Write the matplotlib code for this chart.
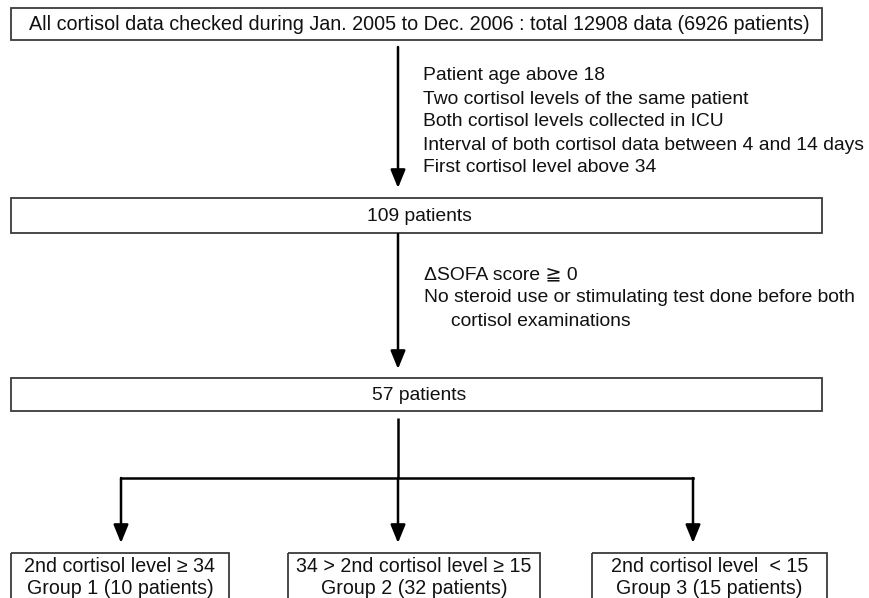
import matplotlib
matplotlib.use("Agg")
import matplotlib.pyplot as plt
from matplotlib.patches import Rectangle

# ---- data (text content) ----
box_labels = [
    "All cortisol data checked during Jan. 2005 to Dec. 2006 : total 12908 data (6926 patients)",
    "109 patients",
    "57 patients",
]
criteria_1 = [
    "Patient age above 18",
    "Two cortisol levels of the same patient",
    "Both cortisol levels collected in ICU",
    "Interval of both cortisol data between 4 and 14 days",
    "First cortisol level above 34",
]
criteria_2 = [
    "\u0394SOFA score \u2267 0",
    "No steroid use or stimulating test done before both",
    "     cortisol examinations",
]
group_conditions = [
    "2nd cortisol level \u2265 34",
    "34 > 2nd cortisol level \u2265 15",
    "2nd cortisol level  < 15",
]
group_names = ["Group 1", "Group 2", "Group 3"]
group_counts = [10, 32, 15]

fam_main = ["Liberation Sans", "DejaVu Sans"]

W, H = 870, 598
fig = plt.figure(figsize=(W / 100, H / 100), dpi=100)
ax = fig.add_axes([0, 0, 1, 1])
ax.set_xlim(0, W)
ax.set_ylim(H, 0)
ax.axis("off")

edge = "#3a3a3a"
txt = "#111111"

def fsz(px):
    return px * 0.72

def box(x0, y0, x1, y1):
    ax.add_patch(Rectangle((x0, y0), x1 - x0, y1 - y0, fill=False,
                           edgecolor=edge, linewidth=1.3))

def arrow(x, y0, y1):
    ax.annotate("", xy=(x, y1), xytext=(x, y0),
                arrowprops=dict(arrowstyle="-|>,head_width=0.45,head_length=1.1",
                                color="black", lw=1.8, shrinkA=0, shrinkB=0))

# main boxes
main_boxes = [(11, 8, 822, 40), (11, 198, 822, 233), (11, 378, 822, 411)]
main_fs = [19.8, 19.3, 19.3]
for (x0, y0, x1, y1), lab, f in zip(main_boxes, box_labels, main_fs):
    box(x0, y0, x1, y1)
    ax.text((x0 + x1) / 2 + 3, (y0 + y1) / 2 + 1, lab, ha="center", va="center",
            fontsize=fsz(f), family=fam_main, color=txt)

cx = 398
arrow(cx, 47, 188)
arrow(cx, 234, 369)

for i, t in enumerate(criteria_1):
    ax.text(423, 76 + i * 23, t, ha="left", va="center", fontsize=fsz(19.3),
            family=fam_main, color=txt)
for i, t in enumerate(criteria_2):
    ax.text(424, 275 + i * 23, t, ha="left", va="center", fontsize=fsz(19.3),
            family=fam_main, color=txt)

# split
ax.plot([cx, cx], [418, 478], color="black", lw=1.8, solid_capstyle="butt")
group_x = [121, 398, 693]
ax.plot([group_x[0], group_x[-1]], [478, 478], color="black", lw=1.8,
        solid_capstyle="projecting")
for gx in group_x:
    arrow(gx, 478, 543)

group_boxes = [(11, 553, 229, 610), (288, 553, 540, 610), (592, 553, 827, 610)]
for (x0, y0, x1, y1), cond, name, n in zip(group_boxes, group_conditions,
                                           group_names, group_counts):
    box(x0, y0, x1, y1)
    xc = (x0 + x1) / 2
    ax.text(xc, 567, cond, ha="center", va="center", fontsize=fsz(19.6),
            family=fam_main, color=txt)
    ax.text(xc, 589, f"{name} ({n} patients)", ha="center", va="center",
            fontsize=fsz(19.6), family=fam_main, color=txt)

fig.savefig("out.png", dpi=100, facecolor="white")
